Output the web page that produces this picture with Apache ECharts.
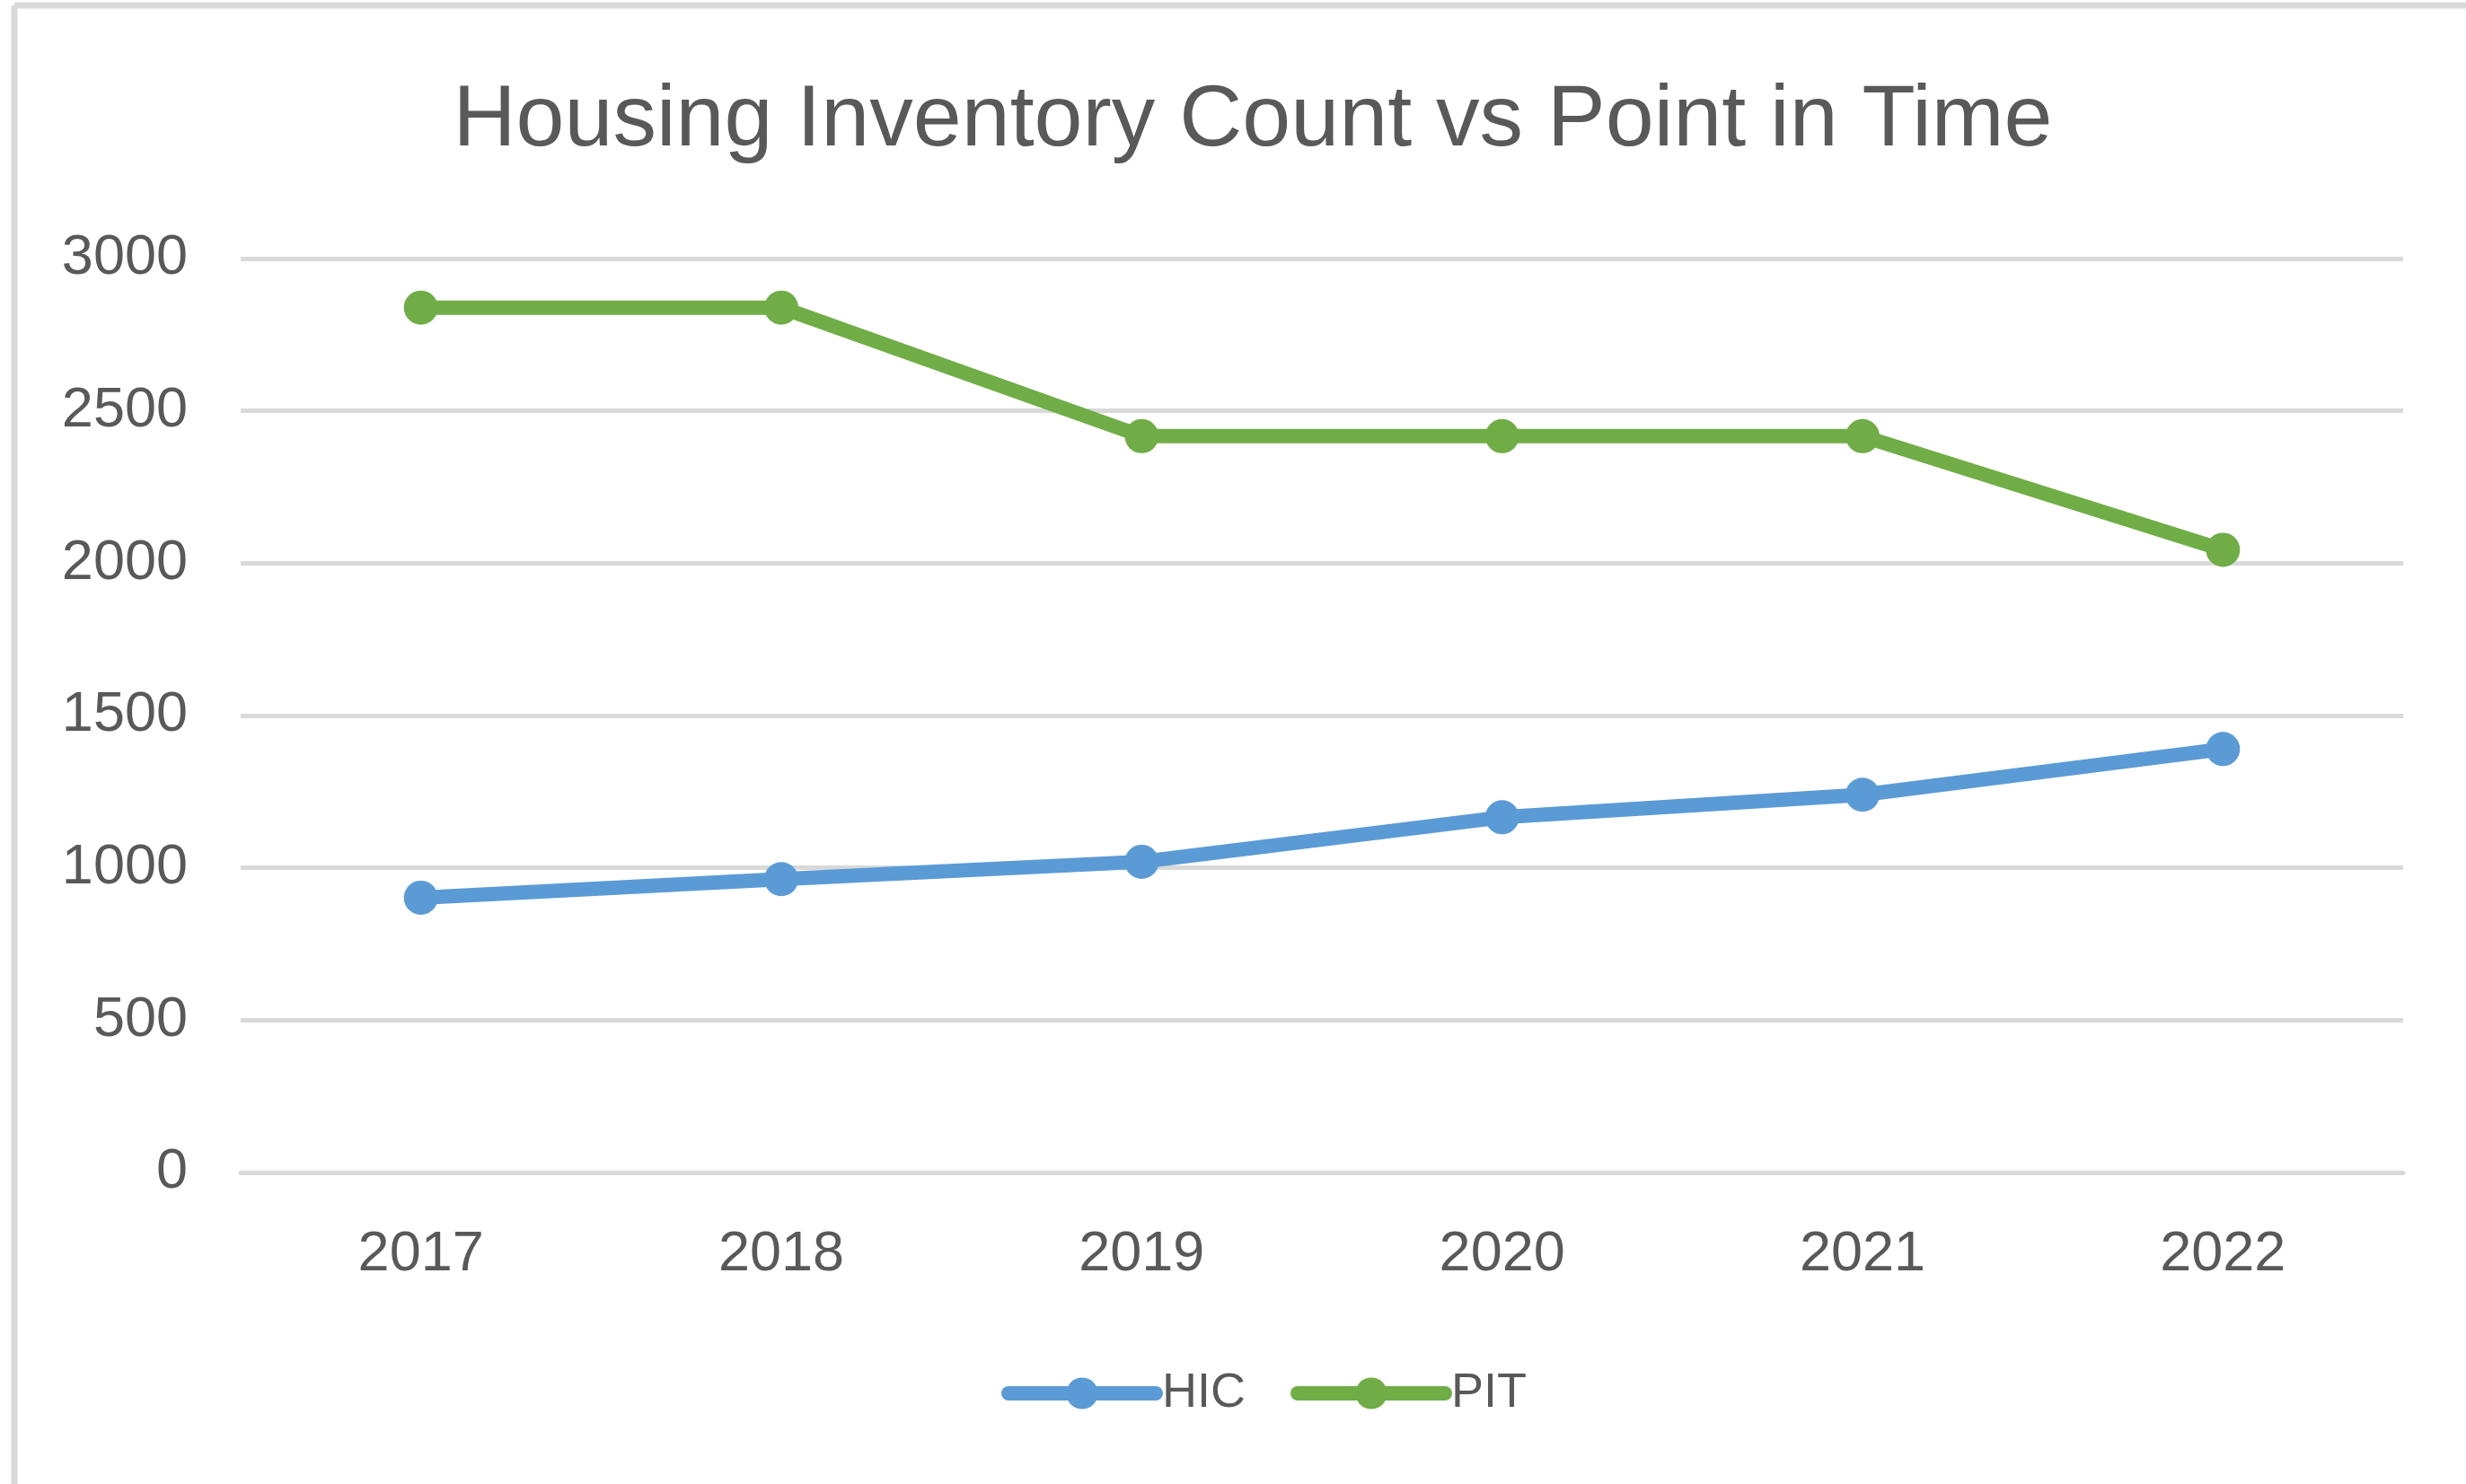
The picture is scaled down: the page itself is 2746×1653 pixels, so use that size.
<!DOCTYPE html>
<html>
<head>
<meta charset="utf-8">
<script src="https://cdn.jsdelivr.net/npm/echarts@6/dist/echarts.min.js"></script>
<style>
html,body{margin:0;padding:0;background:#fff;}
#chart{width:2746px;height:1653px;}
</style>
</head>
<body>
<div id="chart"></div>
<script>
const titleText = "Housing Inventory Count vs Point in Time";
const categories = ["2017", "2018", "2019", "2020", "2021", "2022"];
const hicValues = [902, 963, 1020, 1166, 1240, 1390];
const pitValues = [2839, 2839, 2417, 2417, 2417, 2044];
const yTicks = { min: 0, max: 3000, interval: 500 };

const chart = echarts.init(document.getElementById('chart'), null, { renderer: 'canvas' });
const fontFam = '"Liberation Sans", Arial, sans-serif';
const textGray = '#595959';
const gridGray = '#d9d9d9';

const option = {
  backgroundColor: '#ffffff',
  animation: false,
  graphic: [
    { type: 'line', shape: { x1: 16, y1: 6, x2: 2746, y2: 6 }, style: { stroke: gridGray, lineWidth: 7 }, silent: true },
    { type: 'line', shape: { x1: 16, y1: 6, x2: 16, y2: 1653 }, style: { stroke: gridGray, lineWidth: 7 }, silent: true }
  ],
  title: {
    text: titleText,
    left: 1390,
    textAlign: 'center',
    top: 82,
    textStyle: { fontFamily: fontFam, fontSize: 97, fontWeight: 'normal', color: textGray }
  },
  legend: {
    data: ['HIC', 'PIT'],
    left: 1110,
    top: 1520,
    itemWidth: 164,
    itemHeight: 44,
    itemGap: 50,
    lineStyle: { width: 16 },
    textStyle: { fontFamily: fontFam, fontSize: 54, color: textGray, padding: [0, 0, 0, 2] }
  },
  grid: { left: 268, right: 70, top: 288, bottom: 347, containLabel: false },
  xAxis: {
    type: 'category',
    data: categories,
    boundaryGap: true,
    axisLine: { show: true, lineStyle: { color: gridGray, width: 5 } },
    axisTick: { show: false },
    axisLabel: { fontFamily: fontFam, fontSize: 63, color: textGray, margin: 60 }
  },
  yAxis: {
    type: 'value',
    min: yTicks.min,
    max: yTicks.max,
    interval: yTicks.interval,
    axisLine: { show: false },
    axisTick: { show: false },
    axisLabel: { fontFamily: fontFam, fontSize: 63, color: textGray, margin: 59, formatter: function (v) { return String(v); } },
    splitLine: { show: true, lineStyle: { color: gridGray, width: 5 } }
  },
  series: [
    {
      name: 'HIC',
      type: 'line',
      data: hicValues,
      color: '#5B9BD5',
      symbol: 'circle',
      symbolSize: 38,
      lineStyle: { width: 16, color: '#5B9BD5', cap: 'round', join: 'round' },
      itemStyle: { color: '#5B9BD5' }
    },
    {
      name: 'PIT',
      type: 'line',
      data: pitValues,
      color: '#70AD47',
      symbol: 'circle',
      symbolSize: 38,
      lineStyle: { width: 16, color: '#70AD47', cap: 'round', join: 'round' },
      itemStyle: { color: '#70AD47' }
    }
  ]
};
chart.setOption(option);
</script>
</body>
</html>
